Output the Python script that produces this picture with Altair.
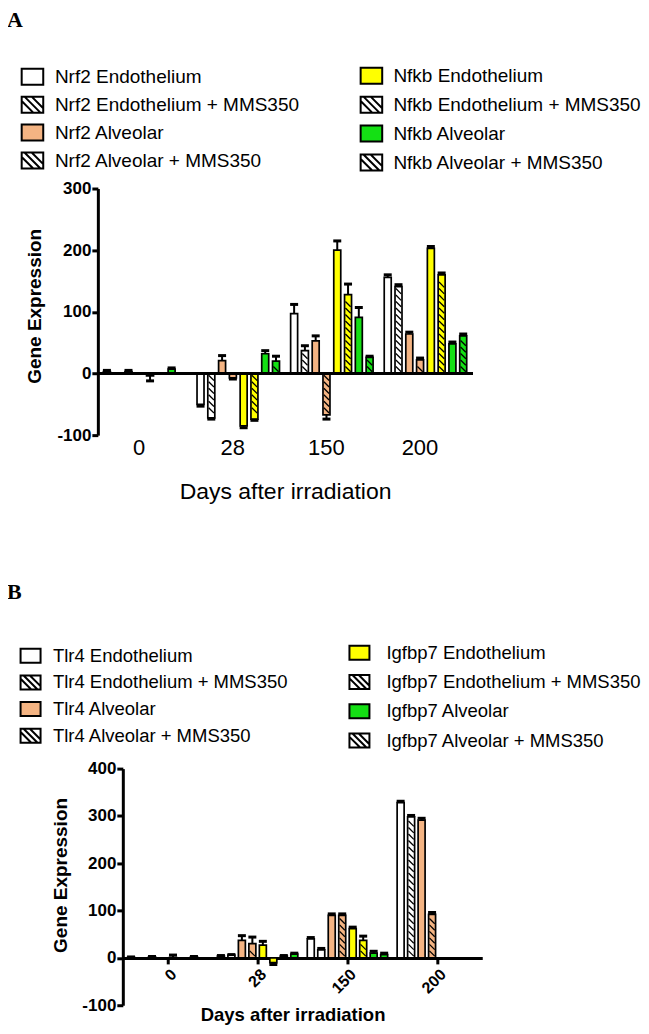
import altair as alt
import pandas as pd

# ---------------- data ----------------
DAYS = ["0", "28", "150", "200"]

SERIES_A = ["Nrf2 Endothelium", "Nrf2 Endothelium + MMS350", "Nrf2 Alveolar", "Nrf2 Alveolar + MMS350",
            "Nfkb Endothelium", "Nfkb Endothelium + MMS350", "Nfkb Alveolar", "Nfkb Alveolar + MMS350"]
SERIES_B = ["Tlr4 Endothelium", "Tlr4 Endothelium + MMS350", "Tlr4 Alveolar", "Tlr4 Alveolar + MMS350",
            "Igfbp7 Endothelium", "Igfbp7 Endothelium + MMS350", "Igfbp7 Alveolar", "Igfbp7 Alveolar + MMS350"]

FILLS = ["#ffffff", "#ffffff", "#f4b483", "#f4b483", "#ffff00", "#ffff00", "#14e014", "#14e014"]
HATCHED = [False, True, False, True, False, True, False, True]

# Panel A means (days 0, 28, 150, 200); None = no bar
A_NRF2_ENDO = [3, -50, 97, 156]
A_NRF2_ENDO_MMS = [None, -72, 37, 141]
A_NRF2_ALV = [3, 21, 53, 64]
A_NRF2_ALV_MMS = [None, -7, -67, 22]
A_NFKB_ENDO = [-4, -85, 200, 203]
A_NFKB_ENDO_MMS = [None, -74, 128, 160]
A_NFKB_ALV = [7, 32, 91, 48]
A_NFKB_ALV_MMS = [None, 20, 26, 61]
# Panel A error bars
A_NRF2_ENDO_ERR = [2, 3, 15, 4]
A_NRF2_ENDO_MMS_ERR = [None, 2, 8, 3]
A_NRF2_ALV_ERR = [2, 8, 8, 3]
A_NRF2_ALV_MMS_ERR = [None, 2, 7, 3]
A_NFKB_ENDO_ERR = [8, 3, 15, 3]
A_NFKB_ENDO_MMS_ERR = [None, 2, 17, 3]
A_NFKB_ALV_ERR = [2, 5, 16, 3]
A_NFKB_ALV_MMS_ERR = [None, 8, 2, 3]

# Panel B means
B_TLR4_ENDO = [1, 4, 40, 328]
B_TLR4_ENDO_MMS = [None, 6, 17, 298]
B_TLR4_ALV = [2, 37, 90, 291]
B_TLR4_ALV_MMS = [None, 30, 90, 92]
B_IGFBP7_ENDO = [1, 27, 62, None]
B_IGFBP7_ENDO_MMS = [None, -10, 37, None]
B_IGFBP7_ALV = [2, 4, 10, None]
B_IGFBP7_ALV_MMS = [None, 8, 7, None]
# Panel B error bars
B_TLR4_ENDO_ERR = [1, 1, 3, 3]
B_TLR4_ENDO_MMS_ERR = [None, 1, 3, 3]
B_TLR4_ALV_ERR = [1, 10, 3, 4]
B_TLR4_ALV_MMS_ERR = [None, 14, 3, 4]
B_IGFBP7_ENDO_ERR = [5, 8, 3, None]
B_IGFBP7_ENDO_MMS_ERR = [None, 4, 9, None]
B_IGFBP7_ALV_ERR = [1, 1, 4, None]
B_IGFBP7_ALV_MMS_ERR = [None, 2, 3, None]

A_VALUES = [A_NRF2_ENDO, A_NRF2_ENDO_MMS, A_NRF2_ALV, A_NRF2_ALV_MMS,
            A_NFKB_ENDO, A_NFKB_ENDO_MMS, A_NFKB_ALV, A_NFKB_ALV_MMS]
A_ERRORS = [A_NRF2_ENDO_ERR, A_NRF2_ENDO_MMS_ERR, A_NRF2_ALV_ERR, A_NRF2_ALV_MMS_ERR,
            A_NFKB_ENDO_ERR, A_NFKB_ENDO_MMS_ERR, A_NFKB_ALV_ERR, A_NFKB_ALV_MMS_ERR]
B_VALUES = [B_TLR4_ENDO, B_TLR4_ENDO_MMS, B_TLR4_ALV, B_TLR4_ALV_MMS,
            B_IGFBP7_ENDO, B_IGFBP7_ENDO_MMS, B_IGFBP7_ALV, B_IGFBP7_ALV_MMS]
B_ERRORS = [B_TLR4_ENDO_ERR, B_TLR4_ENDO_MMS_ERR, B_TLR4_ALV_ERR, B_TLR4_ALV_MMS_ERR,
            B_IGFBP7_ENDO_ERR, B_IGFBP7_ENDO_MMS_ERR, B_IGFBP7_ALV_ERR, B_IGFBP7_ALV_MMS_ERR]

SANS = "Liberation Sans, Arial, Helvetica, sans-serif"
SERIF = "Liberation Serif, Times New Roman, serif"
HATCH_LINE = "M-1,-1L1,1"


def swatch_paths(ar):
    rect = f"M{-ar},-1L{ar},-1L{ar},1L{-ar},1Z"
    c = 0.9
    lines = (f"M{-ar},{-ar + c}L{1 - c},1"
             f"M-1,-1L1,1"
             f"M{c - 1},-1L{ar},{ar - c}")
    return rect, rect + lines


def make_df(series, values, errors):
    rows = []
    for i, (s, vals, errs) in enumerate(zip(series, values, errors)):
        for g, (v, e) in enumerate(zip(vals, errs)):
            if v is None:
                continue
            rows.append({"day": DAYS[g], "gi": g, "si": i, "series": s, "value": v,
                         "err": e, "hatched": HATCHED[i]})
    return pd.DataFrame(rows)


def make_stripes(df, ppu, gap=6.5, half=2.8):
    rows = []
    for r in df.itertuples():
        if not r.hatched:
            continue
        length = abs(r.value) * ppu
        p = half + 1.6
        while p + half + 1.2 <= length:
            rows.append({"gi": r.gi, "si": r.si, "sy": (p if r.value > 0 else -p) / ppu})
            p += gap
    return pd.DataFrame(rows, columns=["gi", "si", "sy"])


def make_legend(series, sw_x, tx_x, y0, dy):
    rows = []
    for i, s in enumerate(series):
        col, row = divmod(i, 4)
        rows.append({"label": s, "fill": FILLS[i], "hatched": HATCHED[i],
                     "sx": sw_x[col], "tx": tx_x[col], "ly": y0[col] + row * dy[col]})
    return pd.DataFrame(rows)


def panel(series, values, errors, ymin, ymax, ystep, width, height, shift,
          slot_px, group_px, bar_px, x_axis_kw, y_axis_offset, y_title_pad, y_title_shift,
          legend, legend_font, sw_size, sw_ar, letter, letter_x, letter_y, zero_line):
    df = make_df(series, values, errors)
    ppu = height / (ymax - ymin)
    st = make_stripes(df, ppu)

    gs = group_px / slot_px                      # group step in slot units
    off0 = (gs - (len(series) - 1)) / 2          # first bar centre inside a group
    half = bar_px / 2 / slot_px
    xmax = len(DAYS) * gs
    centres = [g * gs + off0 + (len(series) - 1) / 2 for g in range(len(DAYS))]
    label_expr = ("[" + ",".join(f"'{d}'" for d in DAYS) + "]"
                  + f"[round((datum.value - {centres[0]}) / {gs})]")

    xs = alt.Scale(domain=[0, xmax], range=[shift, shift + len(DAYS) * group_px], nice=False,
                   zero=False)
    x_axis = alt.Axis(values=centres, labelExpr=label_expr, grid=False, **x_axis_kw)
    ys = alt.Scale(domain=[ymin, ymax], nice=False)
    yaxis = alt.Axis(values=list(range(ymin, ymax + 1, ystep)), grid=False,
                     labelExpr="'' + datum.value", offset=y_axis_offset,
                     domainColor="black", domainWidth=3, tickColor="black", tickWidth=3,
                     tickSize=6, labelFont=SANS, labelFontWeight="bold", labelFontSize=17,
                     labelColor="black", labelPadding=1, titleFont=SANS, titleFontWeight="bold",
                     titleFontSize=19, titleColor="black", titlePadding=y_title_pad,
                     titleY=height / 2 - y_title_shift)

    calc = {"xc": f"datum.gi * {gs} + {off0} + datum.si",
            "xl": f"datum.gi * {gs} + {off0} + datum.si - {half}",
            "xr": f"datum.gi * {gs} + {off0} + datum.si + {half}",
            "eend": "datum.value + (datum.value >= 0 ? datum.err : -datum.err)"}

    base = alt.Chart(df).transform_calculate(**calc)
    bars = base.mark_bar(stroke="black", strokeWidth=1.7).encode(
        x=alt.X("xl:Q", scale=xs, axis=x_axis, title="Days after irradiation"),
        x2="xr:Q",
        y=alt.Y("value:Q", scale=ys, axis=yaxis, title="Gene Expression"),
        y2=alt.datum(0),
        fill=alt.Fill("series:N", scale=alt.Scale(domain=series, range=FILLS), legend=None),
    )
    stripes = alt.Chart(st).transform_calculate(
        xc=f"datum.gi * {gs} + {off0} + datum.si").mark_point(
        shape=HATCH_LINE, size=28, stroke="black", strokeWidth=1.3, filled=False,
        opacity=1).encode(x=alt.X("xc:Q"), y=alt.Y("sy:Q"))
    err_rule = base.mark_rule(color="black", strokeWidth=2).encode(
        x=alt.X("xc:Q"), y=alt.Y("value:Q"), y2="eend:Q")
    err_cap = base.mark_tick(color="black", thickness=3, size=8, orient="horizontal",
                             opacity=1).encode(x=alt.X("xc:Q"), y=alt.Y("eend:Q"))

    layers = [bars, stripes, err_rule, err_cap]
    if zero_line:
        layers.append(base.mark_rule(color="black", strokeWidth=3).encode(y=alt.datum(0)))

    rect_path, hatch_path = swatch_paths(sw_ar)
    lx = alt.X("sx:Q", scale=None, axis=None)
    ly = alt.Y("ly:Q", scale=None, axis=None)
    sw_plain = alt.Chart(legend).transform_filter("!datum.hatched").mark_point(
        shape=rect_path, size=sw_size, filled=True, stroke="black", strokeWidth=2,
        opacity=1).encode(x=lx, y=ly, fill=alt.Fill("fill:N", scale=None))
    sw_hatch = alt.Chart(legend).transform_filter("datum.hatched").mark_point(
        shape=hatch_path, size=sw_size, filled=True, fill="white", stroke="black",
        strokeWidth=2, opacity=1).encode(x=lx, y=ly)
    texts = alt.Chart(legend).mark_text(align="left", baseline="middle", font=SANS,
                                        fontSize=legend_font, color="black").encode(
        x=alt.X("tx:Q", scale=None, axis=None), y=ly, text="label:N")
    letter_df = pd.DataFrame({"t": [letter], "x": [letter_x], "y": [letter_y]})
    letter_mark = alt.Chart(letter_df).mark_text(align="left", baseline="alphabetic",
                                                 font=SERIF, fontWeight="bold", fontSize=22,
                                                 color="black").encode(
        x=alt.X("x:Q", scale=None, axis=None), y=alt.Y("y:Q", scale=None, axis=None),
        text="t:N")
    layers += [sw_plain, sw_hatch, texts, letter_mark]
    return alt.layer(*layers).properties(width=width, height=height)


# ---------------- panel A ----------------
A_W, A_H = 375, 247
axis_a = dict(orient="bottom", domain=False, ticks=False, labelAngle=0, labelFont=SANS,
              labelFontSize=22, labelColor="black", labelPadding=2, labelOffset=-6,
              titleFont=SANS, titleFontSize=23, titleFontWeight="normal",
              titleColor="black", titlePadding=22)
legend_a = make_legend(SERIES_A, [-65.5, 274], [-43, 296], [-112, -113], [28, 29])
panel_a = panel(SERIES_A, A_VALUES, A_ERRORS, -100, 300, 100, A_W, A_H, 0,
                10.8, 93.75, 7, axis_a, 0, 12, 6, legend_a, 19, 256, 1.35,
                "A", -91, -162, True)

# ---------------- panel B ----------------
B_SHIFT = 25
B_W, B_H = 360, 237
B_MIN, B_MAX = -100, 400
axis_b = dict(orient="bottom", offset=-(0 - B_MIN) * B_H / (B_MAX - B_MIN),
              domain=True, domainColor="black", domainWidth=3, ticks=True,
              tickColor="black", tickWidth=3, tickSize=6, labelAngle=-45,
              labelFont=SANS, labelFontSize=16, labelFontWeight="bold",
              labelColor="black", labelPadding=2, titleFont=SANS, titleFontSize=18.5,
              titleFontWeight="bold", titleColor="black", titlePadding=10,
              titleX=B_SHIFT + 170)
legend_b = make_legend(SERIES_B, [-67.4, 262], [-45, 289], [-113, -116], [26.7, 29.3])
panel_b = panel(SERIES_B, B_VALUES, B_ERRORS, B_MIN, B_MAX, 100, B_SHIFT + B_W, B_H, B_SHIFT,
                10.5, 90, 7, axis_b, -B_SHIFT, 11, 12, legend_b, 18.5, 196, 1.43,
                "B", -91, -170, False)

chart = alt.concat(panel_a, panel_b, columns=1, spacing=78).properties(
    padding={"left": -1, "top": 0, "right": 0, "bottom": 0}
).configure_view(stroke=None).configure_axis(grid=False)

chart.save("out.html", embed_options={"renderer": "svg", "actions": False})
